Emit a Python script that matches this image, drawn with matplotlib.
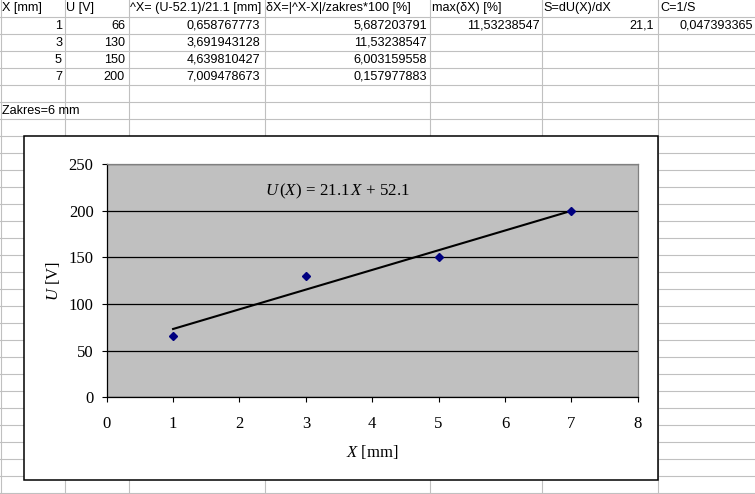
import matplotlib
matplotlib.use("Agg")
import matplotlib.pyplot as plt
from matplotlib.patches import Rectangle
import numpy as np

# ---------------- data ----------------
x_mm = [1, 3, 5, 7]
u_v = [66, 130, 150, 200]
x_hat = ["0,658767773", "3,691943128", "4,639810427", "7,009478673"]
delta_x = ["5,687203791", "11,53238547", "6,003159558", "0,157977883"]
max_delta = "11,53238547"
s_val = "21,1"
c_val = "0,047393365"
headers = ["X [mm]", "U [V]", "^X= (U-52.1)/21.1 [mm]", "δX=|^X-X|/zakres*100 [%]",
           "max(δX) [%]", "S=dU(X)/dX", "C=1/S"]
zakres_text = "Zakres=6 mm"
slope = 21.1
intercept = 52.1
x_ticks = [0, 1, 2, 3, 4, 5, 6, 7, 8]
y_ticks = [0, 50, 100, 150, 200, 250]

plt.rcParams['mathtext.fontset'] = 'custom'
plt.rcParams['mathtext.rm'] = 'Liberation Serif'
plt.rcParams['mathtext.it'] = 'Liberation Serif:italic'

W, H = 755, 494
fig = plt.figure(figsize=(W / 100, H / 100), dpi=100)
fig.patch.set_facecolor('white')

# ---------------- spreadsheet background ----------------
bg = fig.add_axes([0, 0, 1, 1])
bg.set_xlim(0, W)
bg.set_ylim(H, 0)
bg.axis('off')

col_edges = [0, 64, 128, 264, 429, 541, 657.5, 756]
row_h = 17
row_lines = [0.3 + row_h * k for k in range(1, 30)]
grid_c = '#c0c0c0'
for xe in col_edges[:-1]:
    bg.plot([xe + 0.5, xe + 0.5], [0, H], color=grid_c, lw=0.8, zorder=1)
for ye in row_lines:
    bg.plot([0, W], [ye, ye], color=grid_c, lw=0.8, zorder=1)

cell_font = dict(family='Liberation Sans', fontsize=9.1, color='black', va='center', zorder=2)

def row_center(r):
    return 0.3 + row_h * r + row_h / 2

# header row
for i, h in enumerate(headers):
    bg.text(col_edges[i] + 2.5, row_center(0) - 0.5, h, ha='left', **cell_font)

# data rows
for r in range(4):
    yc = row_center(r + 1)
    bg.text(col_edges[1] - 2, yc, str(x_mm[r]), ha='right', **cell_font)
    bg.text(col_edges[2] - 3, yc, str(u_v[r]), ha='right', **cell_font)
    bg.text(col_edges[3] - 4, yc, x_hat[r], ha='right', **cell_font)
    bg.text(col_edges[4] - 2, yc, delta_x[r], ha='right', **cell_font)
bg.text(col_edges[5] - 1, row_center(1), max_delta, ha='right', **cell_font)
bg.text(col_edges[6] - 4, row_center(1), s_val, ha='right', **cell_font)
bg.text(col_edges[7] - 3, row_center(1), c_val, ha='right', **cell_font)
bg.text(2.5, row_center(6), zakres_text, ha='left', **cell_font)

# chart area
bg.add_patch(Rectangle((23.5, 135.5), 634, 344.5, facecolor='white',
                       edgecolor='black', lw=1.1, zorder=5))

# ---------------- chart ----------------
L, R, T, B = 106.7, 637.7, 164.0, 397.3
ax = fig.add_axes([L / W, 1 - B / H, (R - L) / W, (B - T) / H])
ax.set_facecolor('#c0c0c0')
ax.set_xlim(0, 8)
ax.set_ylim(0, 250)
ax.set_xticks(x_ticks)
ax.set_yticks(y_ticks)
ax.yaxis.grid(True, color='black', lw=0.9)
ax.set_axisbelow(True)
for s in ['top', 'right']:
    ax.spines[s].set_color('#808080')
    ax.spines[s].set_linewidth(0.9)
for s in ['left', 'bottom']:
    ax.spines[s].set_color('black')
    ax.spines[s].set_linewidth(0.9)

ax.tick_params(axis='both', direction='out', length=3.5, width=0.8, colors='black',
               labelsize=12)
ax.tick_params(axis='x', pad=10)
ax.tick_params(axis='y', pad=6)
for lab in ax.get_xticklabels() + ax.get_yticklabels():
    lab.set_fontfamily('Liberation Serif')

# trend line from fit coefficients
xf = np.array([min(x_mm), max(x_mm)])
ax.plot(xf, slope * xf + intercept, color='black', lw=1.5, zorder=3)
ax.plot(x_mm, u_v, linestyle='none', marker='D', markersize=3.6,
        color='#000080', zorder=4)

ax.text(2.385, 220.3, r'$U\,(X)\,=\,21.1\,X\,+\,52.1$', fontsize=12.2,
        ha='left', va='center')

ax.set_ylabel(r'$U$ [V]', fontsize=12, family='Liberation Serif', va='center')
ax.yaxis.set_label_coords((53 - L) / (R - L), 0.5)
ax.set_xlabel(r'$X$ [mm]', fontsize=12, family='Liberation Serif', va='center')
ax.xaxis.set_label_coords(0.5, (B - 451.7) / (B - T))

fig.savefig('out.png', dpi=100, facecolor='white')
